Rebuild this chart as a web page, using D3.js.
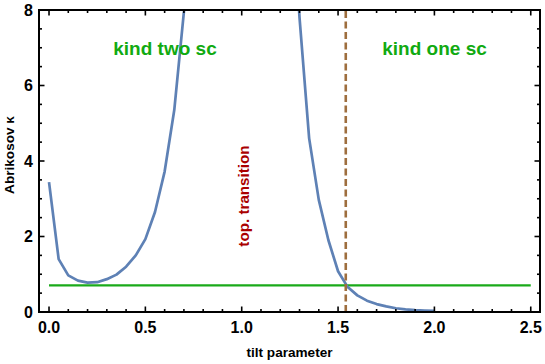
<!DOCTYPE html>
<html>
<head>
<meta charset="utf-8">
<script src="https://cdn.jsdelivr.net/npm/d3@7"></script>
<style>
  html, body { margin: 0; padding: 0; background: #fff; }
  svg { display: block; }
  text { font-family: "Liberation Sans", Arial, sans-serif; font-weight: bold; }
</style>
</head>
<body>
<svg id="chart" width="545" height="364"></svg>
<script>
// ---- data ----
const leftX  = [0, 0.05, 0.1, 0.15, 0.2, 0.25, 0.3, 0.35, 0.4, 0.45, 0.5, 0.55, 0.6, 0.65, 0.7, 0.75];
const leftY  = [3.44, 1.40, 0.97, 0.83, 0.78, 0.79, 0.87, 0.99, 1.20, 1.50, 1.93, 2.65, 3.72, 5.35, 7.95, 12.0];
const rightX = [1.25, 1.3, 1.35, 1.4, 1.45, 1.5, 1.55, 1.6, 1.65, 1.7, 1.75, 1.8, 1.85, 1.9, 1.95, 2.0];
const rightY = [12.0, 7.8, 4.6, 2.97, 1.90, 1.08, 0.66, 0.44, 0.30, 0.21, 0.15, 0.10, 0.07, 0.05, 0.04, 0.03];
const kappaCrit = 0.7071;          // horizontal line value
const kappaRange = [0, 2.5];       // horizontal line extent
const transitionX = 1.54;          // topological transition
const xTicks = [0, 0.5, 1.0, 1.5, 2.0, 2.5];
const yTicks = [0, 2, 4, 6, 8];
const xMinor = d3.range(0, 2.5001, 0.1);
const yMinor = d3.range(0, 8.0001, 0.5);
const labels = { x: "tilt parameter", y: "Abrikosov \u03BA", two: "kind two sc", one: "kind one sc", trans: "top. transition" };

// ---- layout ----
const svg = d3.select("#chart");
const L = 39, R = 540, T = 10, B = 312;
const x = d3.scaleLinear().domain([-0.052, 2.548]).range([L, R]);
const y = d3.scaleLinear().domain([0, 8]).range([B, T]);

svg.append("defs").append("clipPath").attr("id", "clip")
  .append("rect").attr("x", L).attr("y", T).attr("width", R - L).attr("height", B - T);

const plot = svg.append("g").attr("clip-path", "url(#clip)");

const line = d3.line().x(d => x(d[0])).y(d => y(d[1]));

// green horizontal line
plot.append("path")
  .datum(kappaRange.map(v => [v, kappaCrit]))
  .attr("d", line).attr("fill", "none")
  .attr("stroke", "#1aaa1a").attr("stroke-width", 2.2);

// blue curves
[[leftX, leftY], [rightX, rightY]].forEach(([xs, ys]) => {
  plot.append("path")
    .datum(xs.map((v, i) => [v, ys[i]]))
    .attr("d", line).attr("fill", "none")
    .attr("stroke", "#5e81b5").attr("stroke-width", 2.7)
    .attr("stroke-linejoin", "round");
});

// dashed vertical line
plot.append("line")
  .attr("x1", x(transitionX)).attr("x2", x(transitionX))
  .attr("y1", y(0)).attr("y2", y(8))
  .attr("stroke", "#9e6e3e").attr("stroke-width", 2.6)
  .attr("stroke-dasharray", "7,3.5");

// frame
svg.append("rect").attr("x", L).attr("y", T).attr("width", R - L).attr("height", B - T)
  .attr("fill", "none").attr("stroke", "#000").attr("stroke-width", 2);

// ticks (all sides, inward)
const tg = svg.append("g").attr("stroke", "#000").attr("stroke-width", 1.6);
xMinor.forEach(v => {
  const major = xTicks.some(t => Math.abs(t - v) < 1e-6);
  const len = major ? 5.5 : 3;
  tg.append("line").attr("x1", x(v)).attr("x2", x(v)).attr("y1", B).attr("y2", B - len);
  tg.append("line").attr("x1", x(v)).attr("x2", x(v)).attr("y1", T).attr("y2", T + len);
});
yMinor.forEach(v => {
  const major = yTicks.some(t => Math.abs(t - v) < 1e-6);
  const len = major ? 5.5 : 3;
  tg.append("line").attr("y1", y(v)).attr("y2", y(v)).attr("x1", L).attr("x2", L + len);
  tg.append("line").attr("y1", y(v)).attr("y2", y(v)).attr("x1", R).attr("x2", R - len);
});

// tick labels
svg.append("g").selectAll("text").data(xTicks).join("text")
  .attr("x", d => x(d)).attr("y", 333).attr("text-anchor", "middle")
  .attr("font-size", 16).attr("fill", "#000").text(d => d.toFixed(1));
svg.append("g").selectAll("text").data(yTicks).join("text")
  .attr("x", 33).attr("y", d => y(d) + 5.8).attr("text-anchor", "end")
  .attr("font-size", 16).attr("fill", "#000").text(d => d);

// axis titles
svg.append("text").attr("x", (L + R) / 2).attr("y", 357).attr("text-anchor", "middle")
  .attr("font-size", 13.6).attr("fill", "#000").text(labels.x);
svg.append("text").attr("transform", `translate(14,${(T + B) / 2 - 6}) rotate(-90)`)
  .attr("text-anchor", "middle").attr("font-size", 13.6).attr("fill", "#000").text(labels.y);

// annotations
svg.append("text").attr("x", 165).attr("y", 55).attr("text-anchor", "middle")
  .attr("font-size", 19).attr("fill", "#11aa11").text(labels.two);
svg.append("text").attr("x", 434.5).attr("y", 55).attr("text-anchor", "middle")
  .attr("font-size", 19).attr("fill", "#11aa11").text(labels.one);
svg.append("text").attr("transform", `translate(248.5,196) rotate(-90)`)
  .attr("text-anchor", "middle").attr("font-size", 15.2).attr("fill", "#aa0000").text(labels.trans);
</script>
</body>
</html>
